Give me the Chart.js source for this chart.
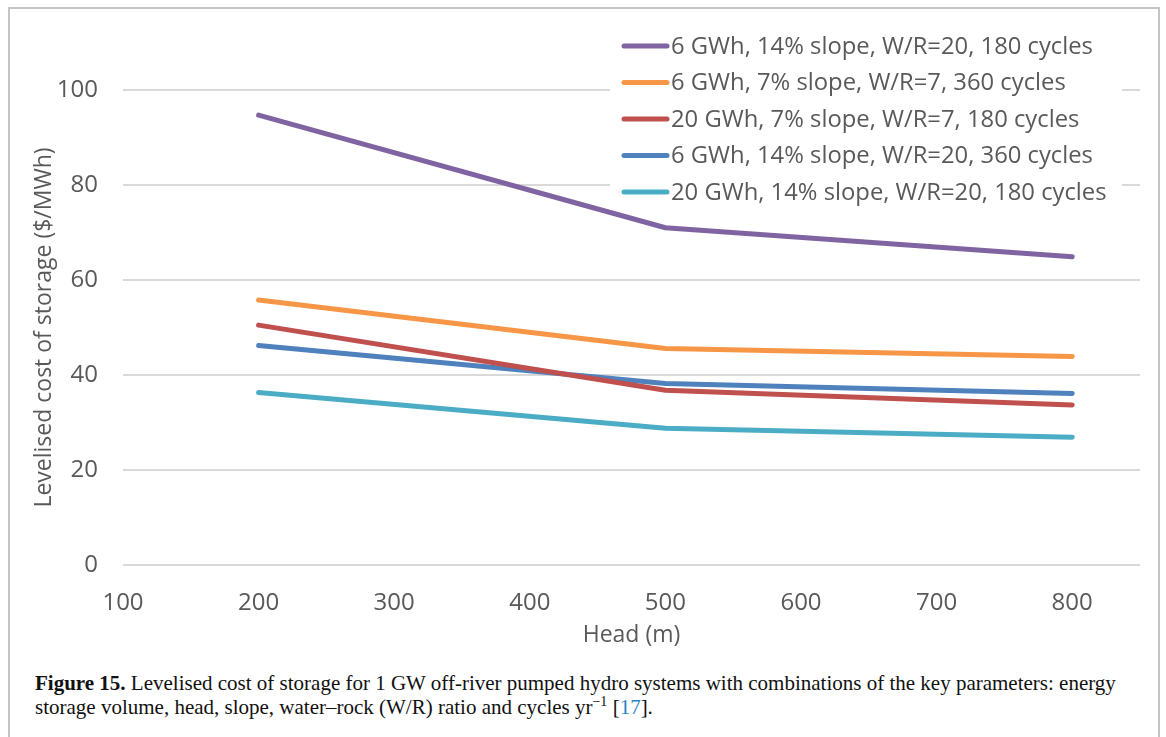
<!DOCTYPE html>
<html>
<head>
<meta charset="utf-8">
<script src="https://cdn.jsdelivr.net/npm/chart.js@4.4.0/dist/chart.umd.min.js"></script>
<style>
  html, body { margin: 0; padding: 0; background: #fff; }
  body { width: 1166px; height: 737px; position: relative; overflow: hidden; }
  #frame {
    position: absolute; left: 8px; top: 7px; width: 1152px; height: 740px;
    border: 2px solid #c4c4c4; box-sizing: border-box;
  }
  #wrap { position: absolute; left: 0; top: 0; width: 1166px; height: 660px; }
  #caption {
    position: absolute; left: 35px; top: 671px; width: 1100px;
    font-family: "Liberation Serif", "DejaVu Serif", serif;
    font-size: 21px; line-height: 24px; color: #111;
  }
  #caption a { color: #1f86c8; text-decoration: none; }
  #caption sup { font-size: 14px; line-height: 0; }
</style>
</head>
<body>
<div id="frame"></div>
<div id="wrap"><canvas id="chart" width="1166" height="660"></canvas></div>
<div id="caption"><b>Figure 15.</b> Levelised cost of storage for 1 GW off-river pumped hydro systems with combinations of the key parameters: energy storage volume, head, slope, water–rock (W/R) ratio and cycles yr<sup>−1</sup> [<a>17</a>].</div>
<script>
const heads = [200, 500, 800];

const seriesLabels = [
  "6 GWh, 14% slope, W/R=20, 180 cycles",
  "6 GWh, 7% slope, W/R=7, 360 cycles",
  "20 GWh, 7% slope, W/R=7, 180 cycles",
  "6 GWh, 14% slope, W/R=20, 360 cycles",
  "20 GWh, 14% slope, W/R=20, 180 cycles",
];

const lcos6gwh14pct180 = [94.7, 71.0, 64.9];
const lcos6gwh7pct360 = [55.8, 45.6, 43.9];
const lcos20gwh7pct180 = [50.5, 36.8, 33.7];
const lcos6gwh14pct360 = [46.2, 38.2, 36.1];
const lcos20gwh14pct180 = [36.3, 28.8, 26.9];

const xTicks = [100, 200, 300, 400, 500, 600, 700, 800];
const yTicks = [0, 20, 40, 60, 80, 100];

const colors = ["#8064A2", "#F79646", "#C0504D", "#4F81BD", "#4BACC6"];
const allValues = [lcos6gwh14pct180, lcos6gwh7pct360, lcos20gwh7pct180, lcos6gwh14pct360, lcos20gwh14pct180];

const FONT = "'Open Sans', 'Liberation Sans', sans-serif";
const GREY = "#595959";

const datasets = allValues.map((vals, i) => ({
  label: seriesLabels[i],
  data: vals.map((v, j) => ({ x: heads[j], y: v })),
  borderColor: colors[i],
  backgroundColor: colors[i],
  borderWidth: 5,
  pointRadius: 0,
  borderCapStyle: "round",
  borderJoinStyle: "round",
  tension: 0,
}));

// legend drawn by hand so it can sit over the top-right corner like the Excel one
const legendBox = {
  id: "legendBox",
  afterDraw(chart) {
    const ctx = chart.ctx;
    ctx.save();
    ctx.fillStyle = "#fff";
    ctx.fillRect(610, 26, 512, 184);
    ctx.font = "23.8px " + FONT;
    ctx.textBaseline = "middle";
    chart.data.datasets.forEach((ds, i) => {
      const y = 46 + i * 36.5;
      ctx.strokeStyle = ds.borderColor;
      ctx.lineWidth = 5;
      ctx.lineCap = "round";
      ctx.beginPath();
      ctx.moveTo(624, y);
      ctx.lineTo(667, y);
      ctx.stroke();
      ctx.fillStyle = GREY;
      ctx.fillText(ds.label, 671, y + 1);
    });
    ctx.restore();
  },
};

new Chart(document.getElementById("chart"), {
  type: "line",
  data: { datasets },
  plugins: [legendBox],
  options: {
    responsive: false,
    animation: false,
    layout: { padding: { left: 0, right: 26, top: 90, bottom: 0 } },
    plugins: { legend: { display: false }, tooltip: { enabled: false } },
    scales: {
      x: {
        type: "linear",
        min: 100,
        max: 850,
        afterBuildTicks: (s) => { s.ticks = xTicks.map((v) => ({ value: v })); },
        afterFit: (s) => { s.height = 95; },
        grid: { display: false },
        border: { display: false },
        ticks: { padding: 16, color: GREY, font: { family: FONT, size: 24 } },
        title: {
          display: true, text: "Head (m)", color: GREY,
          font: { family: FONT, size: 23 }, padding: { bottom: 11, top: 0 },
        },
      },
      y: {
        min: 0,
        max: 100,
        afterBuildTicks: (s) => { s.ticks = yTicks.map((v) => ({ value: v })); },
        afterFit: (s) => { s.width = 123; },
        grid: { color: "#d9d9d9", lineWidth: 2, drawTicks: false },
        border: { display: false },
        ticks: { padding: 25, color: GREY, font: { family: FONT, size: 24 } },
        title: {
          display: true, text: "Levelised cost of storage ($/MWh)", color: GREY,
          font: { family: FONT, size: 23 }, padding: { top: 31, bottom: 0 },
        },
      },
    },
  },
});
</script>
</body>
</html>
